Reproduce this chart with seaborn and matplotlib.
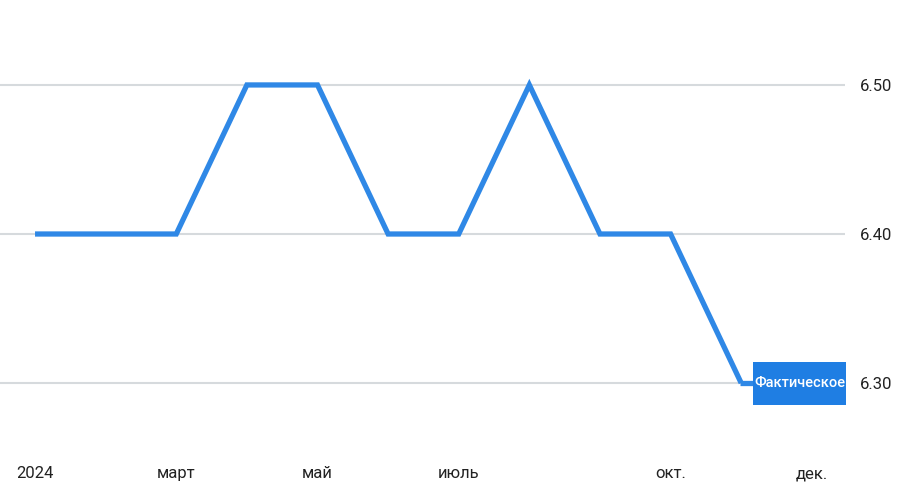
import matplotlib
matplotlib.use("Agg")
import matplotlib.pyplot as plt
from matplotlib.patches import Rectangle
from matplotlib.lines import Line2D
from matplotlib.transforms import IdentityTransform
import seaborn as sns
import pandas as pd

# monthly values, jan..nov 2024
months = list(range(11))
values = [6.40, 6.40, 6.40, 6.50, 6.50, 6.40, 6.40, 6.50, 6.40, 6.40, 6.30]
tick_pos = [0, 2, 4, 6, 9, 11]
tick_labels = ["2024", "март", "май", "июль", "окт.", "дек."]
y_ticks = [6.30, 6.40, 6.50]
series_label = "Фактическое"

df = pd.DataFrame({"month": months, "value": values})

sns.set_theme(style="white")
plt.rcParams["font.family"] = ["Roboto", "DejaVu Sans"]

fig = plt.figure(figsize=(9, 5), dpi=100)
ax = fig.add_axes([0, 0.14, 845 / 900, 0.86])

for y in y_ticks:
    ax.axhline(y, color="#d6dadd", lw=1.5, zorder=1)

sns.lineplot(data=df, x="month", y="value", ax=ax, color="#2f88e6",
             lw=3.8, zorder=3, solid_joinstyle="miter", solid_capstyle="butt")

ax.set_xlim(-0.496, 11.47)
ax.set_ylim(6.2685, 6.557)
ax.set_xticks(tick_pos)
ax.set_xticklabels(tick_labels, fontsize=12, color="#222222")
ax.set_yticks(y_ticks)
ax.set_yticklabels([f"{v:.2f}" for v in y_ticks], fontsize=12, color="#222222")
ax.yaxis.tick_right()
ax.tick_params(axis="x", length=0, pad=26)
ax.tick_params(axis="y", length=0, pad=11)
ax.set_xlabel("")
ax.set_ylabel("")
for s in ax.spines.values():
    s.set_visible(False)

# label box attached to the last point, with a short flat connector
px, py = ax.transData.transform((months[-1], values[-1]))
box_w, box_h = 93, 43
ax.add_line(Line2D([px - 1, px + 14], [py, py], transform=IdentityTransform(),
                   color="#2f88e6", lw=3.8, zorder=4, solid_capstyle="butt"))
ax.add_patch(Rectangle((px + 12, py - box_h / 2), box_w, box_h,
                       transform=IdentityTransform(), fc="#1f7ee3",
                       ec="none", zorder=5, clip_on=False))
ax.annotate(series_label, xy=(months[-1], values[-1]),
            xytext=(12 + box_w / 2, 0), textcoords="offset pixels",
            ha="center", va="center", fontsize=10.5, color="white",
            fontweight="medium", zorder=6)

fig.savefig("out.png", dpi=100)
